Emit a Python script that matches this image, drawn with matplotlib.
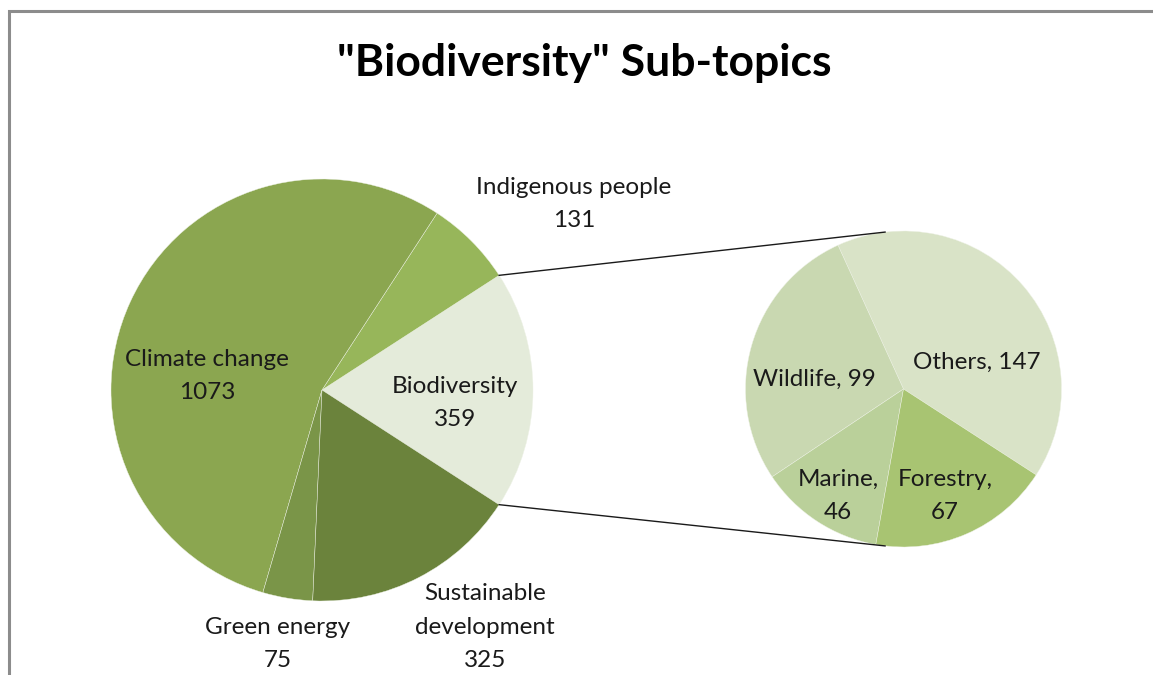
import matplotlib
matplotlib.use("Agg")
import matplotlib.pyplot as plt
import numpy as np

# ---- data ----
title = '"Biodiversity" Sub-topics'
main_labels = ["Biodiversity", "Indigenous people", "Climate change", "Green energy", "Sustainable\ndevelopment"]
main_values = [359, 131, 1073, 75, 325]
sub_labels = ["Others", "Wildlife", "Marine", "Forestry"]
sub_values = [147, 99, 46, 67]

# ---- style ----
W, H = 1153, 675
main_colors = ["#E4EBDA", "#97B65A", "#8BA650", "#7A9548", "#6B833C"]
sub_colors = ["#D9E3C7", "#C9D8B1", "#BAD09A", "#A8C472"]
main_center = (322, H - 390)
main_r = 211
sub_center = (903.5, H - 389)
sub_r = 158
# label anchor positions in pixel coords (x, y from top)
main_label_pos = [(455, 403), (574, 204), (207, 376), (278, 644), (485, 627)]
sub_label_pos = [(977, 362), (814, 379), (838, 496), (945, 496)]
sub_sep = [", ", ", ", ",\n", ",\n"]
font = "Lato"
fs = 17.5
ls = 1.72

fig = plt.figure(figsize=(W / 100, H / 100), dpi=100)
ax = fig.add_axes([0, 0, 1, 1])

total = sum(main_values)
start = -180.0 * main_values[0] / total

ax.pie(main_values, colors=main_colors, startangle=start, counterclock=True,
       center=main_center, radius=main_r,
       wedgeprops=dict(edgecolor="#eef2e6", linewidth=0.3))
ax.pie(sub_values, colors=sub_colors, startangle=start, counterclock=True,
       center=sub_center, radius=sub_r,
       wedgeprops=dict(edgecolor="#eef2e6", linewidth=0.3))

ax.set_xlim(0, W)
ax.set_ylim(0, H)
ax.set_aspect("equal")
ax.axis("off")

# connector lines
a1 = np.deg2rad(-start)
a2 = np.deg2rad(start)
b1 = np.deg2rad(96.7)
b2 = np.deg2rad(-96.7)
for a, b in [(a1, b1), (a2, b2)]:
    ax.plot([main_center[0] + main_r * np.cos(a), sub_center[0] + sub_r * np.cos(b)],
            [main_center[1] + main_r * np.sin(a), sub_center[1] + sub_r * np.sin(b)],
            color="#1a1a1a", lw=1.0)

# labels
for lab, v, (x, y) in zip(main_labels, main_values, main_label_pos):
    ax.text(x, H - y, f"{lab}\n{v}", ha="center", va="center", fontsize=fs,
            family=font, color="#1a1a1a", linespacing=ls)
for lab, v, sep, (x, y) in zip(sub_labels, sub_values, sub_sep, sub_label_pos):
    ax.text(x, H - y, f"{lab}{sep}{v}", ha="center", va="center", fontsize=fs,
            family=font, color="#1a1a1a", linespacing=ls)

ax.text(584, H - 63, title, ha="center", va="center", fontsize=32,
        fontweight="bold", family=font, color="black")

# chart frame (top and left edges visible)
ax.plot([8.5, 8.5, W], [0, H - 10.5, H - 10.5], color="#8c8c8c", lw=2.2,
        solid_joinstyle="miter", clip_on=False)

fig.savefig("out.png", dpi=100)
